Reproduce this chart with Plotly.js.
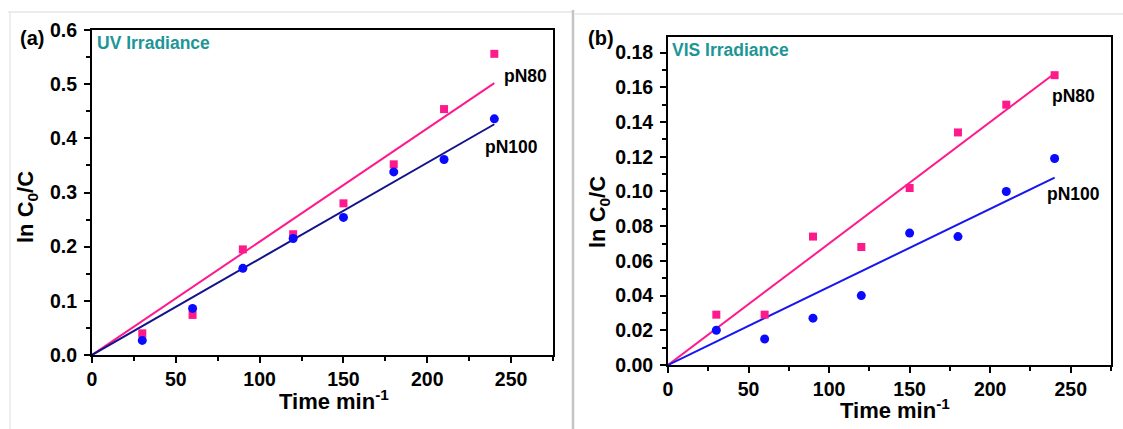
<!DOCTYPE html>
<html>
<head>
<meta charset="utf-8">
<script src="https://cdn.plot.ly/plotly-3.0.1.min.js"></script>
<style>html,body{margin:0;padding:0;background:#fff;}#chart{width:1123px;height:429px;}</style>
</head>
<body>
<div id="chart"></div>
<script>
// ---- data ----
const timeMin = [30, 60, 90, 120, 150, 180, 210, 240];
const uvPN80 = [0.040, 0.074, 0.195, 0.223, 0.280, 0.352, 0.454, 0.556];
const uvPN100 = [0.027, 0.086, 0.160, 0.215, 0.254, 0.338, 0.361, 0.436];
const visPN80 = [0.029, 0.029, 0.074, 0.068, 0.102, 0.134, 0.150, 0.167];
const visPN100 = [0.020, 0.015, 0.027, 0.040, 0.076, 0.074, 0.100, 0.119];
const fitX = [0, 240];
const uvFitPN80 = [0, 0.502];
const uvFitPN100 = [0, 0.426];
const visFitPN80 = [0, 0.168];
const visFitPN100 = [0, 0.108];
const seriesNames = ["pN80", "pN100"];
const panelLabels = ["(a)", "(b)"];
const panelTitles = ["UV Irradiance", "VIS Irradiance"];

// ---- layout helpers ----
const W = 1123, H = 429;
const px = x => x / W;
const py = y => 1 - y / H;
const FONT = "Liberation Sans, Arial, sans-serif";
const PINK = "#FF1A8C";
const BLUE = "#0A0AFF";

function mk(x, y, sym, color, xa, ya, name) {
  return {x: x, y: y, type: "scatter", mode: "markers", name: name, xaxis: xa, yaxis: ya,
    marker: {symbol: sym, color: color, size: sym === "square" ? 8 : 9, line: {width: 0}},
    showlegend: false, hoverinfo: "x+y"};
}
function ln(x, y, color, xa, ya, name) {
  return {x: x, y: y, type: "scatter", mode: "lines", name: name + " fit", xaxis: xa, yaxis: ya,
    line: {color: color, width: 2}, showlegend: false, hoverinfo: "skip"};
}

const data = [
  ln(fitX, uvFitPN80, PINK, "x", "y", seriesNames[0]),
  ln(fitX, uvFitPN100, "#12128C", "x", "y", seriesNames[1]),
  mk(timeMin, uvPN80, "square", PINK, "x", "y", seriesNames[0]),
  mk(timeMin, uvPN100, "circle", BLUE, "x", "y", seriesNames[1]),
  ln(fitX, visFitPN80, PINK, "x2", "y2", seriesNames[0]),
  ln(fitX, visFitPN100, "#1616F0", "x2", "y2", seriesNames[1]),
  mk(timeMin, visPN80, "square", PINK, "x2", "y2", seriesNames[0]),
  mk(timeMin, visPN100, "circle", BLUE, "x2", "y2", seriesNames[1])
];

function axisBase(extra) {
  return Object.assign({
    showline: true, linecolor: "#000", linewidth: 2, mirror: true,
    ticks: "outside", ticklen: 6, tickwidth: 2, tickcolor: "#000",
    showgrid: false, zeroline: false, automargin: false,
    tickfont: {family: FONT, size: 19.5, color: "#000", weight: "bold"}
  }, extra);
}

const layout = {
  width: W, height: H,
  margin: {l: 0, r: 0, t: 0, b: 0},
  paper_bgcolor: "#fff", plot_bgcolor: "#fff",
  showlegend: false,
  xaxis: axisBase({domain: [px(92), px(553)], range: [0, 275], dtick: 50, anchor: "y",
    minor: {ticks: "outside", ticklen: 4, tickwidth: 2, tickcolor: "#000", dtick: 25}}),
  yaxis: axisBase({domain: [py(355), py(30)], range: [0, 0.6], dtick: 0.1, tickformat: ".1f", anchor: "x",
    ticklabelstandoff: 3,
    minor: {ticks: "outside", ticklen: 4, tickwidth: 2, tickcolor: "#000", dtick: 0.05}}),
  xaxis2: axisBase({domain: [px(668), px(1111)], range: [0, 275], dtick: 50, anchor: "y2",
    minor: {ticks: "outside", ticklen: 4, tickwidth: 2, tickcolor: "#000", dtick: 25}}),
  yaxis2: axisBase({domain: [py(365), py(37)], range: [0, 0.189], dtick: 0.02, tickformat: ".2f", anchor: "x2",
    ticklabelstandoff: 3,
    minor: {ticks: "outside", ticklen: 4, tickwidth: 2, tickcolor: "#000", dtick: 0.01}}),
  shapes: [
    {type: "line", xref: "paper", yref: "paper", x0: px(8), x1: px(572), y0: py(12), y1: py(12), line: {color: "#e4e4e4", width: 1.5}},
    {type: "line", xref: "paper", yref: "paper", x0: px(10), x1: px(10), y0: py(12), y1: py(429), line: {color: "#e8e8e8", width: 1.5}},
    {type: "line", xref: "paper", yref: "paper", x0: px(573), x1: px(573), y0: py(10), y1: py(429), line: {color: "#c4c4c4", width: 2.5}},
    {type: "line", xref: "paper", yref: "paper", x0: px(575), x1: px(1123), y0: py(14), y1: py(14), line: {color: "#e4e4e4", width: 1.5}}
  ],
  annotations: []
};

function ann(text, x, y, opts) {
  layout.annotations.push(Object.assign({
    text: text, xref: "paper", yref: "paper", x: px(x), y: py(y),
    xanchor: "center", yanchor: "middle", showarrow: false,
    font: {family: FONT, size: 17.5, color: "#000"}
  }, opts || {}));
}

// panel labels
ann("<b>" + panelLabels[0] + "</b>", 32, 38, {font: {family: FONT, size: 20, color: "#000"}});
ann("<b>" + panelLabels[1] + "</b>", 601, 38, {font: {family: FONT, size: 20, color: "#000"}});
// irradiance titles
ann("<b>" + panelTitles[0] + "</b>", 95, 43, {xanchor: "left", font: {family: FONT, size: 17.5, color: "#1E9696"}});
ann("<b>" + panelTitles[1] + "</b>", 670, 50, {xanchor: "left", font: {family: FONT, size: 17.5, color: "#1E9696"}});
// series labels
ann("<b>" + seriesNames[0] + "</b>", 502, 76, {xanchor: "left"});
ann("<b>" + seriesNames[1] + "</b>", 483, 147, {xanchor: "left"});
ann("<b>" + seriesNames[0] + "</b>", 1050, 96, {xanchor: "left"});
ann("<b>" + seriesNames[1] + "</b>", 1045, 194, {xanchor: "left"});
// axis titles
const xTitle = "<b>Time min<sup>-1</sup></b>";
const yTitle = "<b>ln C<sub>0</sub>/C</b>";
ann(xTitle, 334, 400, {font: {family: FONT, size: 22, color: "#000"}});
ann(xTitle, 895, 409, {font: {family: FONT, size: 22, color: "#000"}});
ann(yTitle, 27, 207, {textangle: -90, font: {family: FONT, size: 22, color: "#000"}});
ann(yTitle, 599, 212, {textangle: -90, font: {family: FONT, size: 22, color: "#000"}});

Plotly.newPlot("chart", data, layout, {displayModeBar: false, staticPlot: true});
</script>
</body>
</html>
